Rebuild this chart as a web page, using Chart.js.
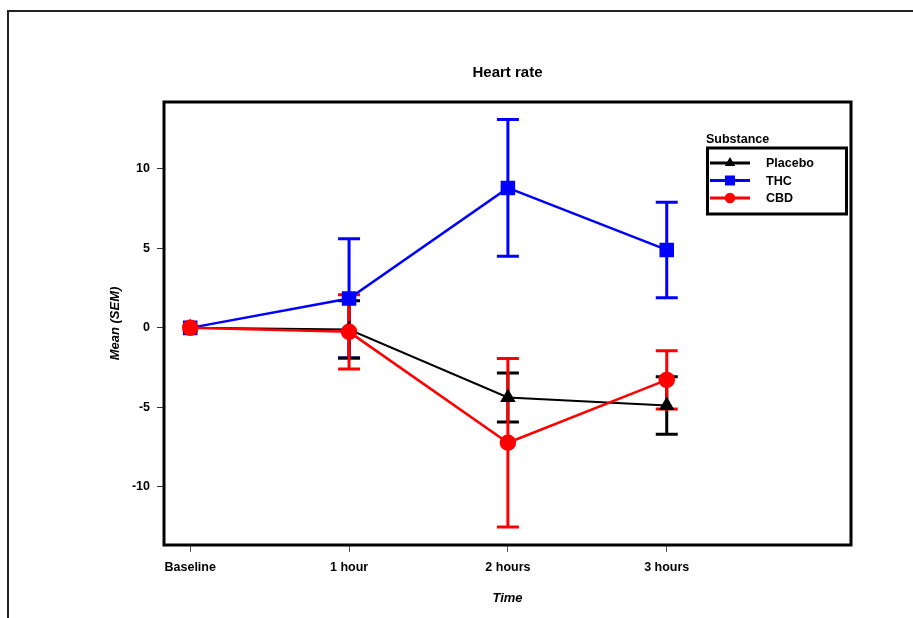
<!DOCTYPE html>
<html>
<head>
<meta charset="utf-8">
<title>Heart rate</title>
<script src="https://cdn.jsdelivr.net/npm/chart.js@4.4.0/dist/chart.umd.min.js"></script>
<style>
  html, body { margin: 0; padding: 0; background: #fff; overflow: hidden; }
  #wrap { position: relative; width: 913px; height: 618px; }
  #frame { position: absolute; left: 7px; top: 10px; width: 920px; height: 620px;
           border-left: 2px solid #222; border-top: 2px solid #222; }
  canvas { position: absolute; left: 0; top: 0; }
</style>
</head>
<body>
<div id="wrap">
  <div id="frame"></div>
  <canvas id="heartRate" width="913" height="618"></canvas>
</div>
<script>
// Datos
const timeLabels = ['Baseline', '1 hour', '2 hours', '3 hours'];
const placeboMean = [0, -0.1, -4.37, -4.88];
const placeboSem = [0, 1.8, 1.54, 1.8];
const thcMean = [0, 1.85, 8.8, 4.9];
const thcSem = [0, 3.75, 4.3, 3.0];
const cbdMean = [0, -0.25, -7.22, -3.27];
const cbdSem = [0, 2.33, 5.3, 1.83];
const yTicks = [-10, -5, 0, 5, 10];

const FONT = '"Liberation Sans", Arial, Helvetica, sans-serif';

function points(means) {
  return means.map((v, i) => ({ x: i, y: v }));
}

// barras de error (media +/- SEM)
const errorBars = {
  id: 'errorBars',
  beforeDatasetsDraw(chart) {
    const { ctx, scales: { x, y } } = chart;
    [1, 0, 2].forEach(k => {
      const ds = chart.data.datasets[k];
      ctx.save();
      ctx.strokeStyle = ds.borderColor;
      ctx.lineWidth = 3;
      ds.data.forEach((p, i) => {
        const e = ds.sem[i];
        if (!e) return;
        const px = x.getPixelForValue(p.x);
        const top = y.getPixelForValue(p.y + e);
        const bot = y.getPixelForValue(p.y - e);
        ctx.beginPath();
        ctx.moveTo(px, top); ctx.lineTo(px, bot);
        ctx.moveTo(px - 11, top); ctx.lineTo(px + 11, top);
        ctx.moveTo(px - 11, bot); ctx.lineTo(px + 11, bot);
        ctx.stroke();
      });
      ctx.restore();
    });
  }
};

// marco, titulo y leyenda
const decor = {
  id: 'decor',
  afterDraw(chart) {
    const { ctx, chartArea: a } = chart;
    ctx.save();
    ctx.strokeStyle = '#000';
    ctx.lineWidth = 3;
    ctx.strokeRect(a.left, a.top, a.right - a.left, a.bottom - a.top);

    ctx.fillStyle = '#000';
    ctx.font = 'bold 15px ' + FONT;
    ctx.textAlign = 'center';
    ctx.textBaseline = 'alphabetic';
    ctx.fillText('Heart rate', (a.left + a.right) / 2, a.top - 25);

    const bx = a.right - 145, by = a.top + 46, bw = 139, bh = 66;
    ctx.font = 'bold 12.5px ' + FONT;
    ctx.textAlign = 'left';
    ctx.fillText('Substance', bx, by - 5);
    ctx.lineWidth = 3;
    ctx.strokeRect(bx + 1.5, by, bw, bh);

    const legendRadius = { triangle: 3, rect: 5, circle: 3.8 };
    chart.data.datasets.forEach((ds, i) => {
      const ly = by + 15 + i * 17.5;
      ctx.strokeStyle = ds.borderColor;
      ctx.fillStyle = ds.borderColor;
      ctx.lineWidth = 3;
      ctx.beginPath();
      ctx.moveTo(bx + 4, ly); ctx.lineTo(bx + 44, ly);
      ctx.stroke();
      Chart.helpers.drawPoint(ctx, { pointStyle: ds.pointStyle, radius: legendRadius[ds.pointStyle], borderWidth: 1 }, bx + 24, ly);
      ctx.fillStyle = '#000';
      ctx.textBaseline = 'middle';
      ctx.fillText(ds.label, bx + 60, ly + 1);
    });
    ctx.restore();
  }
};

new Chart(document.getElementById('heartRate'), {
  type: 'line',
  data: {
    datasets: [{
      label: 'Placebo',
      data: points(placeboMean),
      sem: placeboSem,
      borderColor: '#000000',
      backgroundColor: '#000000',
      borderWidth: 2,
      pointStyle: 'triangle',
      pointRadius: 7,
      order: 1
    }, {
      label: 'THC',
      data: points(thcMean),
      sem: thcSem,
      borderColor: '#0000ff',
      backgroundColor: '#0000ff',
      borderWidth: 2.5,
      pointStyle: 'rect',
      pointRadius: 8.5,
      order: 2
    }, {
      label: 'CBD',
      data: points(cbdMean),
      sem: cbdSem,
      borderColor: '#ff0000',
      backgroundColor: '#ff0000',
      borderWidth: 2.5,
      pointStyle: 'circle',
      pointRadius: 7,
      order: 0
    }]
  },
  options: {
    responsive: false,
    animation: false,
    layout: { padding: { top: 102, right: 62, left: 0, bottom: 0 } },
    plugins: {
      legend: { display: false },
      tooltip: { enabled: false },
      title: { display: false }
    },
    scales: {
      x: {
        type: 'linear',
        bounds: 'data',
        min: -0.165,
        max: 4.16,
        afterBuildTicks: s => { s.ticks = timeLabels.map((_, i) => ({ value: i })); },
        afterFit: s => { s.height = 73; },
        ticks: {
          callback: v => timeLabels[v],
          color: '#000',
          font: { family: FONT, size: 12.5, weight: 'bold' },
          padding: 8,
          maxRotation: 0,
          autoSkip: false
        },
        grid: { drawOnChartArea: false, drawTicks: true, tickLength: 7, color: '#555' },
        border: { display: false },
        title: {
          display: true,
          text: 'Time',
          color: '#000',
          font: { family: FONT, size: 13, weight: 'bold', style: 'italic' },
          padding: { top: 0, bottom: 12 }
        }
      },
      y: {
        type: 'linear',
        bounds: 'data',
        min: -13.65,
        max: 14.2,
        afterBuildTicks: s => { s.ticks = yTicks.map(v => ({ value: v })); },
        afterFit: s => { s.width = 164; },
        ticks: {
          callback: v => String(v),
          color: '#000',
          font: { family: FONT, size: 12.5, weight: 'bold' },
          padding: 7
        },
        grid: { drawOnChartArea: false, drawTicks: true, tickLength: 7, color: '#333' },
        border: { display: false },
        title: {
          display: true,
          text: 'Mean (SEM)',
          color: '#000',
          font: { family: FONT, size: 13, weight: 'bold', style: 'italic' },
          padding: { top: 108, bottom: 0 }
        }
      }
    }
  },
  plugins: [errorBars, decor]
});
</script>
</body>
</html>
